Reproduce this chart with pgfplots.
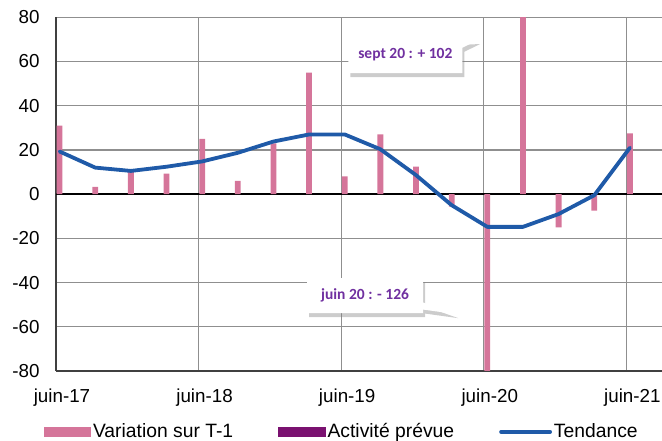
\documentclass[border=0pt]{standalone}
\usepackage{fontspec}
\setmainfont{Liberation Sans}
\newfontfamily\calibri{Carlito}
\usepackage{pgfplots}
\pgfplotsset{compat=1.18}
\usetikzlibrary{shapes.callouts,shadows}

\definecolor{varpink}{HTML}{D5759A}
\definecolor{trendblue}{HTML}{1F5AA8}
\definecolor{actpurple}{HTML}{7A1170}
\definecolor{gridgray}{HTML}{8F8F8F}
\definecolor{axisgray}{HTML}{404040}
\definecolor{notepurple}{HTML}{7030A0}

\begin{document}
\fontsize{18.5}{22}\selectfont
\begin{tikzpicture}
\begin{axis}[
    scale only axis,
    width=606pt, height=353.7pt,
    xmin=0, xmax=17,
    ymin=-80, ymax=80,
    axis lines=left,
    axis line style={-, draw=axisgray, line width=1.2pt},
    xtick={0,4,8,12,16},
    xticklabels={juin-17,juin-18,juin-19,juin-20,juin-21},
    ytick={-80,-60,-40,-20,0,20,40,60,80},
    major tick length=0pt,
    grid=major,
    grid style={gridgray, line width=1.2pt},
    extra y ticks={0},
    extra y tick labels={},
    extra y tick style={grid style={black, line width=1.3pt}},
    /pgf/number format/assume math mode=true,
    ticklabel style={font=\fontsize{18.8}{22}\selectfont},
    xticklabel style={xshift=6pt, yshift=-12pt},
    yticklabel style={xshift=-10pt},
    legend columns=3,
    legend cell align=left,
    legend style={at={(-0.025,-0.172)}, anchor=west, draw=none, fill=none,
        font=\fontsize{19.3}{22}\selectfont,
        /tikz/every even column/.append style={column sep=43pt}},
]
\coordinate (SW) at (rel axis cs:0,0);

% Variation sur T-1
\addplot[ybar, bar width=5.8pt, bar shift=0pt, fill=varpink, draw=none,
    legend image code/.code={\fill[varpink] (0pt,-4.8pt) rectangle (47pt,4.8pt);}]
coordinates {
    (0.1,31) (1.1,3.3) (2.1,10) (3.1,9.3) (4.1,25) (5.1,6) (6.1,23)
    (7.1,55) (8.1,8) (9.1,27) (10.1,12.4) (11.1,-5.7) (12.1,-126)
    (13.1,102) (14.1,-15) (15.1,-7.5) (16.1,27.5)
};
\addlegendentry{Variation sur T-1}

\addlegendimage{legend image code/.code={\fill[actpurple] (0pt,-4.8pt) rectangle (47pt,4.8pt);}}
\addlegendentry{Activité prévue}

% Tendance
\addplot[trendblue, line width=3.8pt, line join=round, line cap=round, mark=none,
    legend image code/.code={\draw[trendblue, line width=3.8pt] (0pt,0pt) -- (49pt,0pt);}]
coordinates {
    (0.1,19.3) (1.1,12) (2.1,10.5) (3.1,12.4) (4.1,14.8) (5.1,18.7)
    (6.1,23.8) (7.1,27) (8.1,27) (9.1,20.3) (10.1,8.6) (11.1,-5)
    (12.1,-14.8) (13.1,-14.8) (14.1,-9) (15.1,-0.5) (16.1,21)
};
\addlegendentry{Tendance}

\node[rectangle callout, fill=white, draw=none,
    minimum width=114pt, minimum height=36pt,
    callout absolute pointer={(axis cs:11.84,69.7)},
    drop shadow={shadow xshift=2pt, shadow yshift=-4pt, opacity=0.4},
    font=\calibri\bfseries\fontsize{15.5}{18}\selectfont, text=notepurple]
    at (axis cs:9.8,62.9) {sept 20 : + 102};

\node[rectangle callout, fill=white, draw=none,
    minimum width=116pt, minimum height=35pt,
    callout absolute pointer={(axis cs:11.23,-54.3)},
    drop shadow={shadow xshift=2pt, shadow yshift=-4pt, opacity=0.4},
    font=\calibri\bfseries\fontsize{15.5}{18}\selectfont, text=notepurple]
    at (axis cs:8.67,-45.9) {juin 20 : - 126};
\end{axis}
\pgfresetboundingbox
\path (SW) ++(-56pt,-70pt) rectangle ++(662pt,441pt);
\end{tikzpicture}
\end{document}
